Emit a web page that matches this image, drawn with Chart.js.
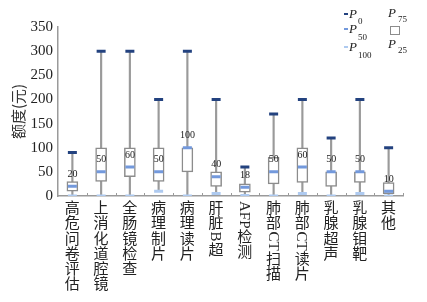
<!DOCTYPE html>
<html>
<head>
<meta charset="utf-8">
<script src="https://cdn.jsdelivr.net/npm/chart.js@4.4.0/dist/chart.umd.min.js"></script>
<style>
  html, body { margin: 0; padding: 0; background: #fff; }
  #wrap { width: 427px; height: 302px; }
</style>
</head>
<body>
<div id="wrap"><canvas id="chart"></canvas></div>
<script>
// ===== Données : percentiles des montants par poste =====
const CATEGORIES = ['高危问卷评估', '上消化道腔镜', '全肠镜检查', '病理制片', '病理读片', '肝脏B超',
  'AFP检测', '肺部CT扫描', '肺部CT读片', '乳腺超声', '乳腺钼靶', '其他'];
const P_MAX = [90, 300, 300, 200, 300, 200, 60, 170, 200, 120, 200, 100];
const P_75 = [30, 100, 100, 100, 100, 50, 25, 80, 100, 50, 50, 28];
const P_50 = [20, 50, 60, 50, 100, 40, 18, 50, 60, 50, 50, 10];
const P_25 = [10, 30, 40, 30, 50, 20, 8, 25, 28, 20, 28, 5];
const P_MIN = [0, 0, 0, 10, 0, 5, 1, 0, 5, 0, 5, 0];
const Y_TICKS = [0, 50, 100, 150, 200, 250, 300, 350];

const THEME = {
  ink: '#222222',
  axis: '#9a9a9a',
  box: '#8c8c8c',
  dark: '#23427f',
  mid: '#7399dc',
  light: '#aecaf0',
};
const SERIF = '"Liberation Serif", "DejaVu Serif", serif';
const CJK = '"Noto Sans CJK SC", sans-serif';

// étiquettes verticales + valeurs médianes + légende
const decorPlugin = {
  id: 'decor',
  afterDraw(chart) {
    const { ctx, chartArea } = chart;
    const x = chart.scales.x;
    const y = chart.scales.y;
    ctx.save();

    // petites graduations vers le haut entre catégories
    ctx.strokeStyle = THEME.axis;
    ctx.lineWidth = 1;
    const step = (chartArea.right - chartArea.left) / CATEGORIES.length;
    for (let i = 1; i <= CATEGORIES.length; i++) {
      const px = Math.round(chartArea.left + i * step) + 0.5;
      ctx.beginPath();
      ctx.moveTo(px, chartArea.bottom);
      ctx.lineTo(px, chartArea.bottom - 3);
      ctx.stroke();
    }

    // valeurs médianes
    ctx.fillStyle = THEME.ink;
    ctx.font = '10px ' + SERIF;
    ctx.textAlign = 'center';
    ctx.textBaseline = 'middle';
    P_50.forEach((v, i) => {
      ctx.fillText(String(v), x.getPixelForValue(i), y.getPixelForValue(v) - 12);
    });

    // libellés verticaux (latin tourné, CJK droit)
    const lineH = 15.2;
    CATEGORIES.forEach((label, i) => {
      const cx = x.getPixelForValue(i);
      let cy = chartArea.bottom + 5;
      const runs = label.match(/[A-Za-z]+|./g);
      runs.forEach(run => {
        if (/^[A-Za-z]+$/.test(run)) {
          ctx.font = '15px ' + SERIF;
          const w = ctx.measureText(run).width;
          ctx.save();
          ctx.translate(cx, cy);
          ctx.rotate(Math.PI / 2);
          ctx.textAlign = 'left';
          ctx.textBaseline = 'middle';
          ctx.fillText(run, 0, 1);
          ctx.restore();
          cy += w + 1;
        } else {
          ctx.font = '15px ' + CJK;
          ctx.textAlign = 'center';
          ctx.textBaseline = 'top';
          ctx.fillText(run, cx, cy - 1);
          cy += lineH;
        }
      });
    });

    // légende
    ctx.textAlign = 'left';
    ctx.textBaseline = 'alphabetic';
    const legendRows = [
      { color: THEME.dark, sub: '0', y: 18, subY: 24 },
      { color: THEME.mid, sub: '50', y: 33, subY: 40 },
      { color: THEME.light, sub: '100', y: 51, subY: 58 },
    ];
    legendRows.forEach(r => {
      ctx.fillStyle = r.color;
      ctx.fillRect(344, r.y - 5, 4, 2);
      ctx.fillStyle = THEME.ink;
      ctx.font = 'italic 13px ' + SERIF;
      ctx.fillText('P', 349, r.y);
      ctx.font = '9px ' + SERIF;
      ctx.fillText(r.sub, 358, r.subY);
    });
    ctx.font = 'italic 13px ' + SERIF;
    ctx.fillText('P', 388, 17);
    ctx.fillText('P', 388, 48);
    ctx.font = '9px ' + SERIF;
    ctx.fillText('75', 398, 22);
    ctx.fillText('25', 398, 53);
    ctx.strokeStyle = THEME.box;
    ctx.strokeRect(390.5, 26.5, 9, 8);

    ctx.restore();
  }
};

const whiskers = P_MIN.map((v, i) => [v, P_MAX[i]]);
const boxes = P_25.map((v, i) => [v, P_75[i]]);

function markerSet(data, color) {
  return {
    type: 'line',
    data: data,
    showLine: false,
    pointStyle: 'line',
    pointRadius: 4.5,
    pointHoverRadius: 4.5,
    pointBorderWidth: 3,
    pointBorderColor: color,
    borderColor: color,
    order: 1,
  };
}

new Chart(document.getElementById('chart'), {
  type: 'bar',
  data: {
    labels: CATEGORIES,
    datasets: [
      {
        data: whiskers,
        backgroundColor: THEME.axis,
        barThickness: 1.5,
        grouped: false,
        order: 4,
      },
      {
        data: boxes,
        backgroundColor: '#ffffff',
        borderColor: THEME.box,
        borderWidth: 1.5,
        borderSkipped: false,
        barThickness: 11,
        grouped: false,
        order: 3,
      },
      markerSet(P_MAX, THEME.dark),
      markerSet(P_50, THEME.mid),
      markerSet(P_MIN, THEME.light),
    ]
  },
  options: {
    responsive: true,
    maintainAspectRatio: false,
    animation: false,
    layout: { padding: { left: 0, right: 24, top: 27, bottom: 0 } },
    plugins: { legend: { display: false }, tooltip: { enabled: false } },
    scales: {
      x: {
        ticks: { display: false },
        grid: { drawOnChartArea: false, drawTicks: false },
        border: { color: THEME.axis, width: 1.5 },
        afterFit: (s) => { s.height = 106; },
      },
      y: {
        min: 0,
        max: 350,
        afterBuildTicks: (s) => { s.ticks = Y_TICKS.map(v => ({ value: v })); },
        ticks: { color: THEME.ink, font: { family: SERIF, size: 15 }, padding: 5 },
        grid: { drawOnChartArea: false, drawTicks: false },
        border: { color: THEME.axis, width: 1.5 },
        title: {
          display: true,
          text: '额度(元)',
          color: '#333333',
          font: { family: CJK, size: 15 },
          padding: { top: 9, bottom: 0 },
        },
        afterFit: (s) => { s.width = 58; },
      }
    }
  },
  plugins: [decorPlugin]
});
</script>
</body>
</html>
